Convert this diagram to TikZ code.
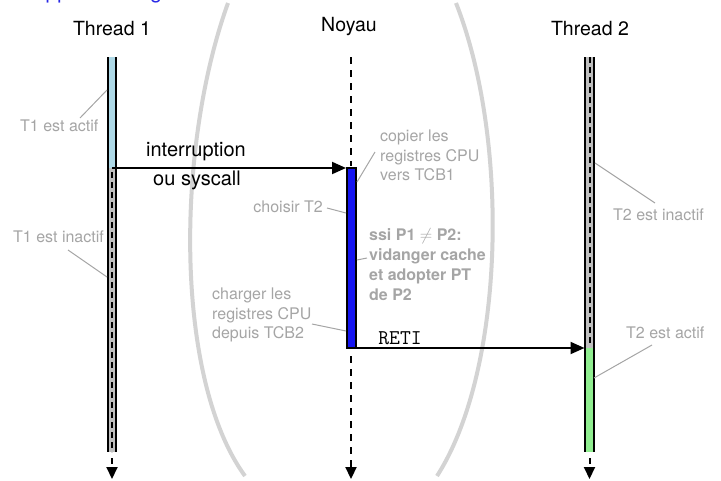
\documentclass[tikz,border=0pt]{standalone}
\usepackage{fontspec}
\setmainfont{TeX Gyre Heros}
\usetikzlibrary{arrows.meta}
\definecolor{annot}{RGB}{165,165,165}
\definecolor{arcgray}{RGB}{211,211,211}
\definecolor{inact}{RGB}{190,190,190}
\definecolor{actblue}{RGB}{173,216,230}
\definecolor{actgreen}{RGB}{144,238,144}
\definecolor{kblue}{RGB}{20,20,240}
\definecolor{titleblue}{RGB}{40,40,230}
\tikzset{
  lanetitle/.style={font=\fontsize{19.5}{23}\selectfont, anchor=base, inner sep=0pt},
  note/.style={font=\fontsize{16}{19.5}\selectfont, text=annot, align=left, inner sep=0pt},
  leader/.style={draw=annot, line width=1pt},
  barside/.style={draw=black, line width=2pt},
  msg/.style={line width=2pt, -{Triangle[length=14pt,width=12pt]}},
  downarrow/.style={line width=2pt, dash pattern=on 6pt off 4pt, -{Triangle[length=12pt,width=11pt]}},
  centerdash/.style={line width=2pt, dash pattern=on 6pt off 4pt},
  kdash/.style={line width=2.2pt, dash pattern=on 7pt off 6pt},
  arcline/.style={draw=arcgray, line width=4pt},
  msglabel/.style={font=\fontsize{20}{23}\selectfont, inner sep=0pt},
}
\begin{document}
\begin{tikzpicture}[x=1pt,y=-1pt]
\useasboundingbox (0,0) rectangle (721,480);
% title (mostly outside the page)
\node[anchor=base west, text=titleblue, font=\fontsize{21}{24}\selectfont, inner sep=0pt] (title) at (19,-1.5) {Rappel : changement de thread};
% gray arcs
\draw[arcline] (228,3) .. controls (175,150) and (175,380) .. (245,476);
\draw[arcline] (456,3) .. controls (510,140) and (505,370) .. (437,476);
% lane titles
\node[lanetitle] (th1) at (112,35.5) {Thread 1};
\node[lanetitle] (noy) at (349,31) {Noyau};
\node[lanetitle] (th2) at (590,35.5) {Thread 2};
% coordinates
\coordinate (t1top) at (112,57);
\coordinate (t1sw) at (112,168);
\coordinate (t1bot) at (112,452);
\coordinate (t1arr) at (112,458);
\coordinate (t1end) at (112,479);
\coordinate (ktop) at (351,57);
\coordinate (kin) at (346,168);
\coordinate (kout) at (346,348);
\coordinate (karr) at (351,356);
\coordinate (kend) at (351,479);
\coordinate (t2top) at (589.5,57);
\coordinate (t2in) at (584.5,348);
\coordinate (t2bot) at (589.5,452);
\coordinate (t2arr) at (589.5,458);
\coordinate (t2end) at (589.5,479);
% Thread 1 bar
\fill[actblue] (108.25,57) rectangle (115.75,168);
\fill[inact] (108.25,168) rectangle (115.75,452);
\draw[centerdash] (112,172) -- (t1bot);
\draw[barside] (108.25,57) -- (108.25,452) (115.75,57) -- (115.75,452);
\draw[downarrow] (t1arr) -- (t1end);
% Thread 2 bar
\fill[inact] (585.25,57) rectangle (593.75,348);
\fill[actgreen] (585.25,348) rectangle (593.75,452);
\draw[centerdash] (t2top) -- (589.5,344);
\draw[barside] (585.25,57) -- (585.25,452) (593.75,57) -- (593.75,452);
\draw[downarrow] (t2arr) -- (t2end);
% Kernel lane
\draw[kdash] (ktop) -- (351,166);
\draw[fill=kblue, line width=2pt] (347,168) rectangle (355.5,348);
\draw[kdash, -{Triangle[length=12pt,width=11pt]}] (karr) -- (kend);
% messages
\draw[msg] (t1sw) -- (kin);
\node[msglabel] (intr) at (196,152) {interruption};
\node[msglabel] (sysc) at (197,180) {ou syscall};
\draw[msg] (kout) -- (t2in);
\node[msglabel, font=\ttfamily\fontsize{21}{24}\selectfont] (reti) at (400,338) {RETI};
% annotations
\node[note, anchor=west] (n1) at (20,126) {T1 est actif};
\coordinate (n1a) at (80,118); \coordinate (n1b) at (107,90);
\draw[leader] (n1a) -- (n1b);
\node[note, anchor=west] (n2) at (13,237) {T1 est inactif};
\coordinate (n2a) at (68,250); \coordinate (n2b) at (107,277);
\draw[leader] (n2a) -- (n2b);
\node[note, anchor=north west] (n3) at (380,130) {copier les\\registres CPU\\vers TCB1};
\coordinate (n3a) at (375,152); \coordinate (n3b) at (357,182);
\draw[leader] (n3a) -- (n3b);
\node[note, anchor=east] (n4) at (323,207) {choisir T2};
\coordinate (n4a) at (327,208); \coordinate (n4b) at (346,213);
\draw[leader] (n4a) -- (n4b);
\node[note, anchor=north west, font=\bfseries\fontsize{16}{20}\selectfont] (n5) at (369,228) {ssi P1 $\neq$ P2:\\vidanger cache\\et adopter PT\\de P2};
\coordinate (n5a) at (367,258); \coordinate (n5b) at (357,260);
\draw[leader] (n5a) -- (n5b);
\node[note, anchor=north west] (n6) at (212,288) {charger les\\registres CPU\\depuis TCB2};
\coordinate (n6a) at (312,324); \coordinate (n6b) at (346,331);
\draw[leader] (n6a) -- (n6b);
\node[note, anchor=west] (n7) at (613,215) {T2 est inactif};
\coordinate (n7a) at (655,203); \coordinate (n7b) at (595,163);
\draw[leader] (n7a) -- (n7b);
\node[note, anchor=west] (n8) at (626,333) {T2 est actif};
\coordinate (n8a) at (652,345); \coordinate (n8b) at (594,378);
\draw[leader] (n8a) -- (n8b);
\end{tikzpicture}
\end{document}
